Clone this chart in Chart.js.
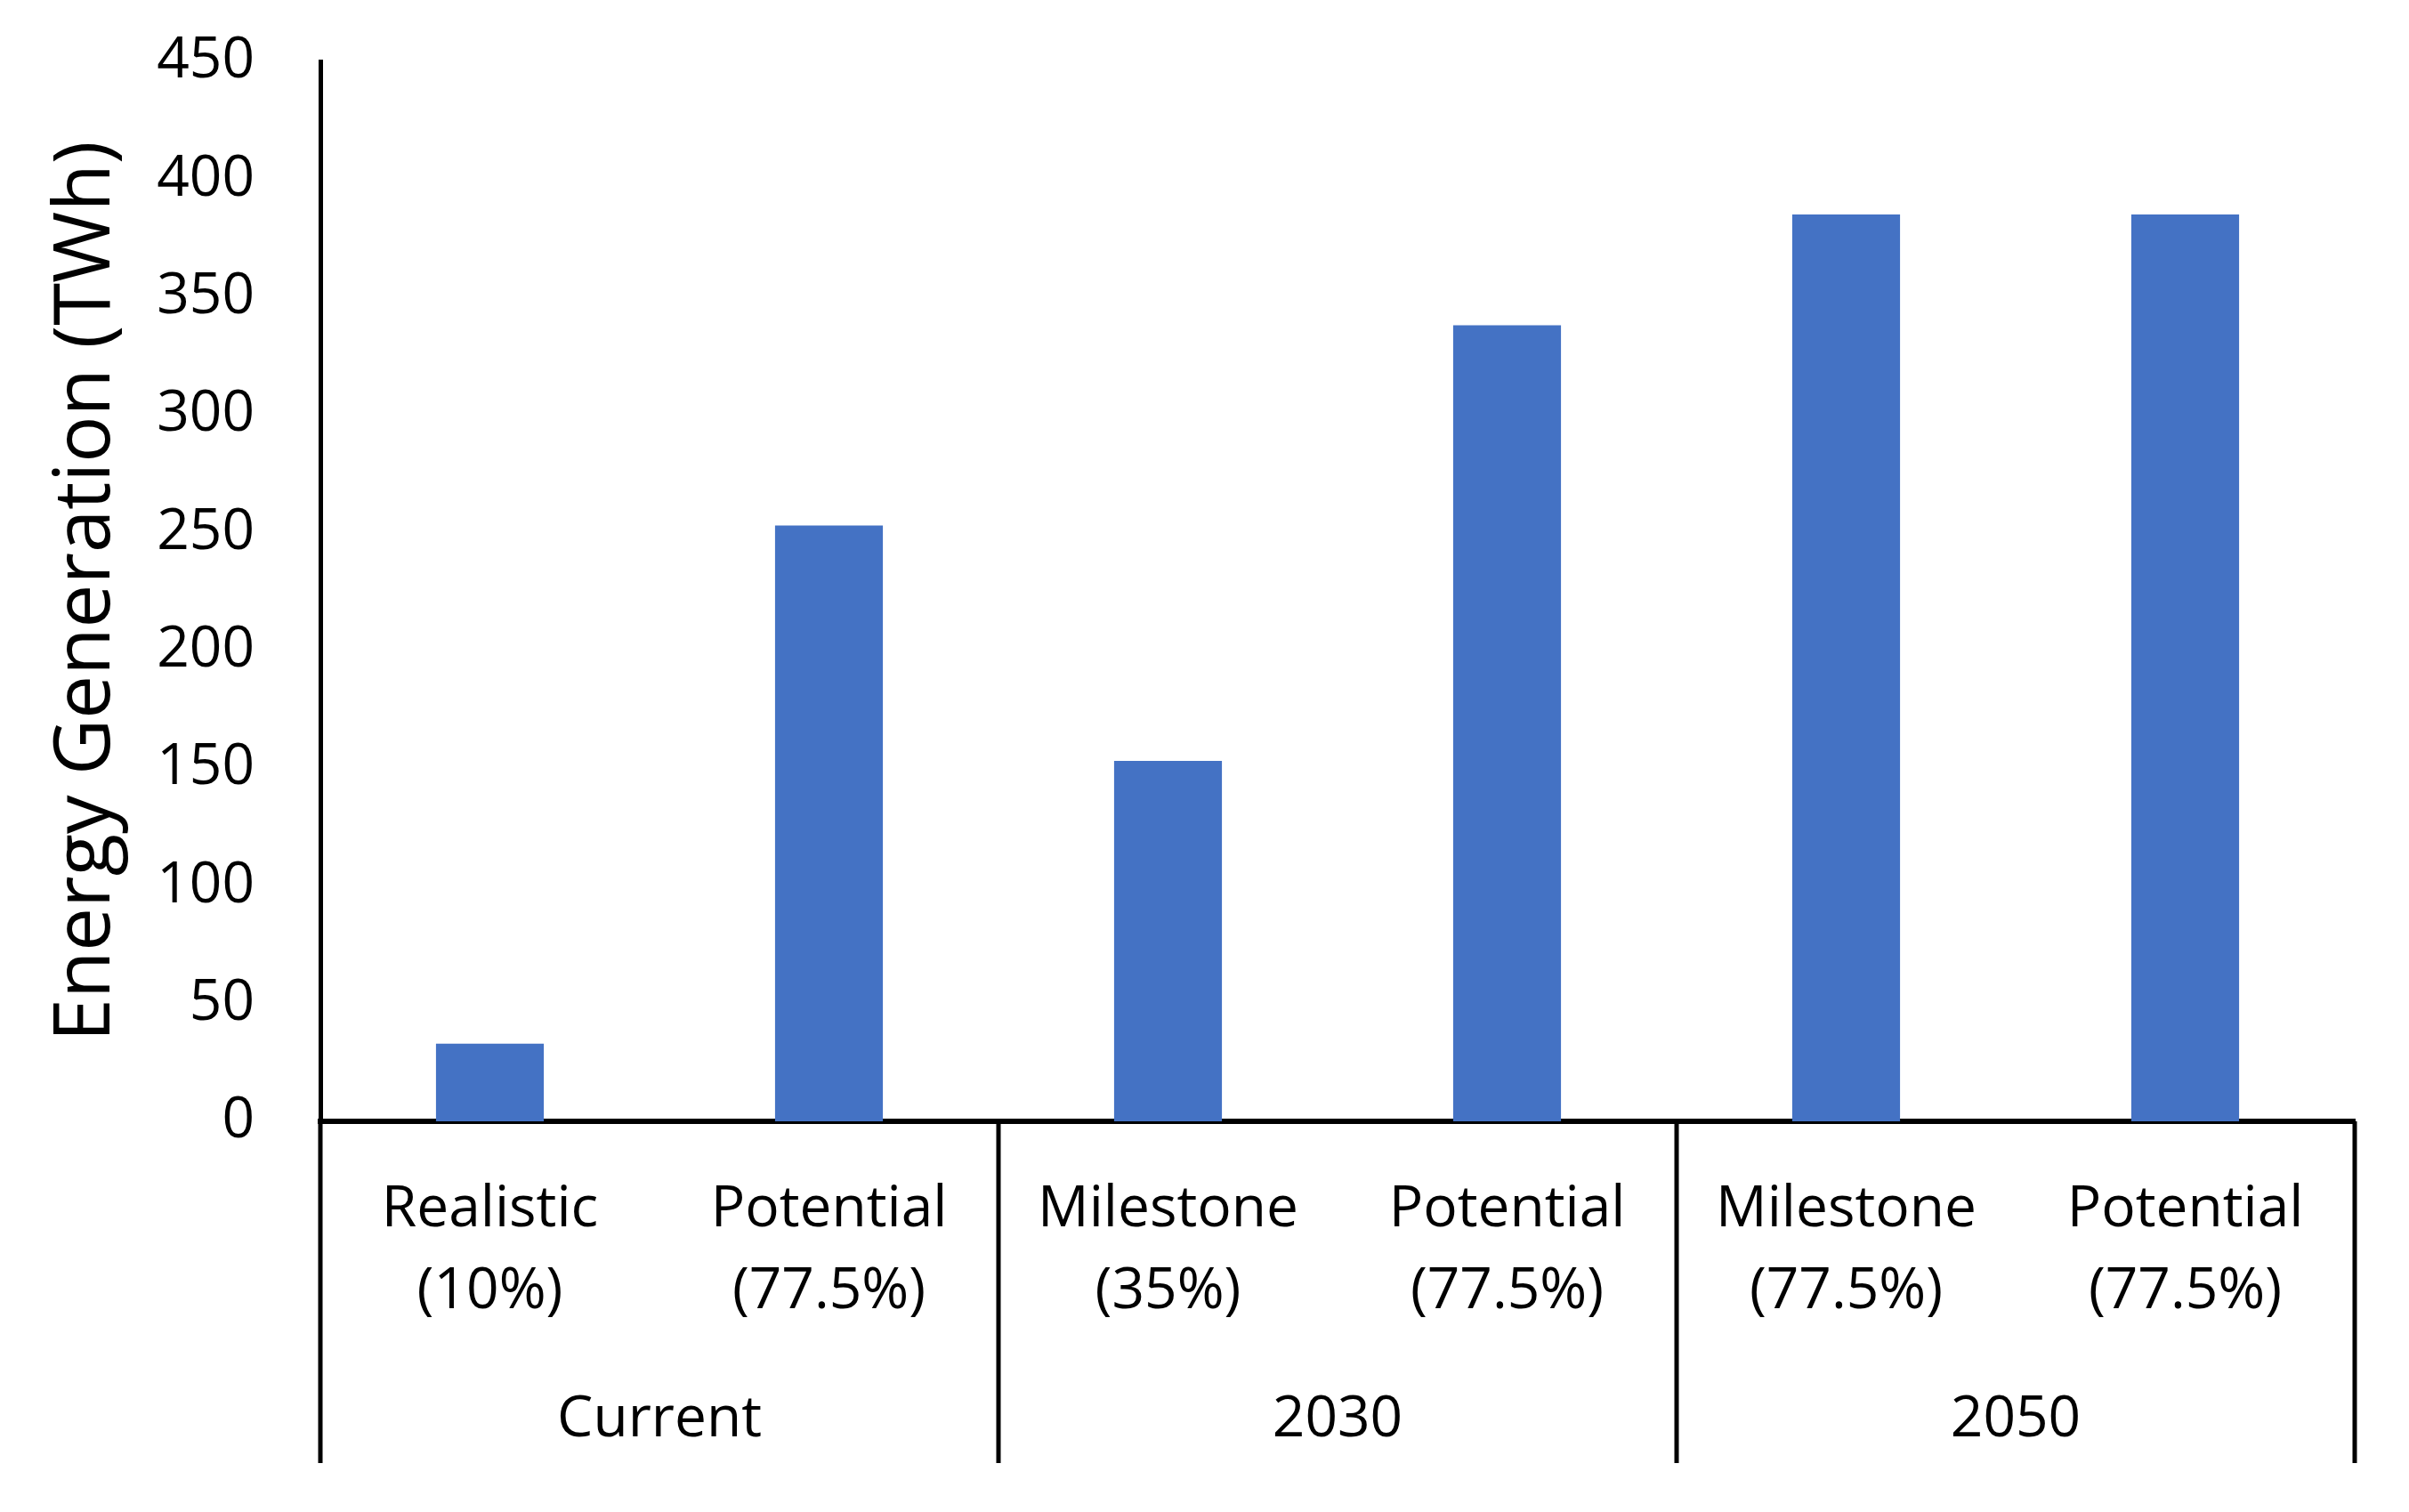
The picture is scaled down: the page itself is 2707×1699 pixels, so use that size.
<!DOCTYPE html>
<html>
<head>
<meta charset="utf-8">
<script src="https://cdn.jsdelivr.net/npm/chart.js@4/dist/chart.umd.min.js"></script>
<style>
  html, body { margin: 0; padding: 0; background: #ffffff; }
  #wrap { width: 2707px; height: 1699px; position: relative; }
</style>
</head>
<body>
<div id="wrap"><canvas id="c" width="2707" height="1699"></canvas></div>
<script>
// ---- data ----
const categories = [
  ["Realistic", "(10%)"],
  ["Potential", "(77.5%)"],
  ["Milestone", "(35%)"],
  ["Potential", "(77.5%)"],
  ["Milestone", "(77.5%)"],
  ["Potential", "(77.5%)"]
];
const groups = ["Current", "2030", "2050"];
const groupSizes = [2, 2, 2];
const energyTWh = [33, 253, 153, 338, 385, 385];
const yMin = 0;
const yMax = 450;
const yStep = 50;
const yTitle = "Energy Generation (TWh)";

const LABEL_FONT = { family: "'Open Sans', sans-serif", size: 64, lineHeight: 1.45 };

const groupPlugin = {
  id: 'groupAxis',
  afterDraw(chart) {
    const xs = chart.scales.x;
    const ctx = chart.ctx;
    const half = (xs.getPixelForValue(1) - xs.getPixelForValue(0)) / 2;
    const top = xs.top;
    const bottom = xs.top + 384;
    ctx.save();
    ctx.strokeStyle = '#000000';
    ctx.lineWidth = 5;
    let start = 0;
    const edges = [xs.getPixelForValue(0) - half];
    groups.forEach((g, gi) => {
      const end = start + groupSizes[gi] - 1;
      edges.push(xs.getPixelForValue(end) + half);
      const cx = (xs.getPixelForValue(start) + xs.getPixelForValue(end)) / 2;
      ctx.fillStyle = '#000000';
      ctx.font = LABEL_FONT.size + "px " + LABEL_FONT.family;
      ctx.textAlign = 'center';
      ctx.textBaseline = 'middle';
      ctx.fillText(g, cx, top + 336);
      start = end + 1;
    });
    edges.forEach(px => {
      ctx.beginPath();
      ctx.moveTo(px, top);
      ctx.lineTo(px, bottom);
      ctx.stroke();
    });
    ctx.restore();
  }
};

new Chart(document.getElementById('c'), {
  type: 'bar',
  data: {
    labels: categories,
    datasets: [{
      data: energyTWh,
      backgroundColor: '#4472C4',
      borderWidth: 0,
      barPercentage: 0.318,
      categoryPercentage: 1.0
    }]
  },
  options: {
    responsive: false,
    devicePixelRatio: 1,
    animation: false,
    layout: { padding: { left: 0, top: 69, right: 61, bottom: 0 } },
    plugins: { legend: { display: false }, tooltip: { enabled: false } },
    scales: {
      x: {
        z: 1,
        grid: { display: false, drawTicks: false },
        border: { display: true, color: '#000000', width: 6 },
        ticks: { color: '#000000', font: LABEL_FONT, padding: 53, maxRotation: 0, autoSkip: false },
        afterFit(scale) { scale.height = 439; }
      },
      y: {
        min: yMin,
        max: yMax,
        grid: { display: false, drawTicks: false },
        border: { display: true, color: '#000000', width: 5 },
        ticks: { stepSize: yStep, color: '#000000', font: { family: "'Open Sans', sans-serif", size: 64 }, padding: 74 },
        title: {
          display: true,
          text: yTitle,
          color: '#000000',
          font: { family: "'Open Sans', sans-serif", size: 87, lineHeight: 1.2 },
          padding: { top: 46, bottom: 0 }
        },
        afterFit(scale) {
          scale.width = 360;
          scale.paddingTop = 0;
          scale.paddingBottom = 0;
        }
      }
    }
  },
  plugins: [groupPlugin]
});
</script>
</body>
</html>
